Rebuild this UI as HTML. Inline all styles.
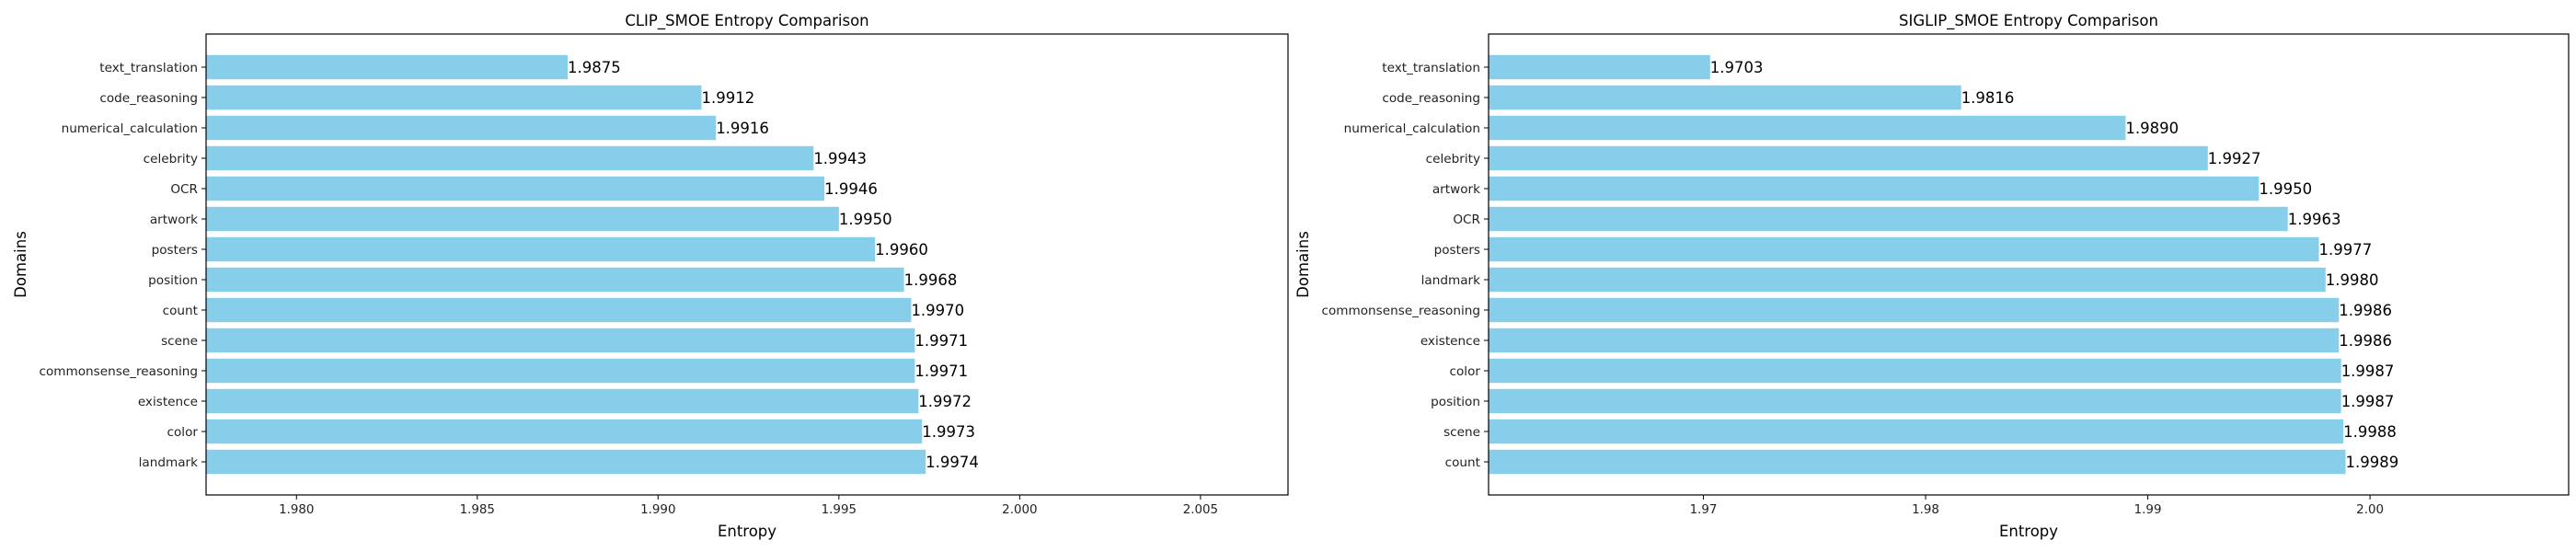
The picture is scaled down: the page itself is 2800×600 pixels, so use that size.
<!DOCTYPE html>
<html><head><meta charset="utf-8"><style>
body{margin:0;background:#fff;}
svg{display:block;font-family:"DejaVu Sans","Liberation Sans",sans-serif;}
</style></head><body>
<svg id="fig" width="2800" height="600" viewBox="0 0 2800 600" xmlns="http://www.w3.org/2000/svg"></svg>
<script>
const clipCategories = ["text_translation","code_reasoning","numerical_calculation","celebrity","OCR","artwork","posters","position","count","scene","commonsense_reasoning","existence","color","landmark"];
const clipValues = [1.9875,1.9912,1.9916,1.9943,1.9946,1.9950,1.9960,1.9968,1.9970,1.9971,1.9971,1.9972,1.9973,1.9974];
const clipTicks = [1.980,1.985,1.990,1.995,2.000,2.005];
const clipTickLabels = ["1.980","1.985","1.990","1.995","2.000","2.005"];
const siglipCategories = ["text_translation","code_reasoning","numerical_calculation","celebrity","artwork","OCR","posters","landmark","commonsense_reasoning","existence","color","position","scene","count"];
const siglipValues = [1.9703,1.9816,1.9890,1.9927,1.9950,1.9963,1.9977,1.9980,1.9986,1.9986,1.9987,1.9987,1.9988,1.9989];
const siglipTicks = [1.97,1.98,1.99,2.00];
const siglipTickLabels = ["1.97","1.98","1.99","2.00"];

const NS="http://www.w3.org/2000/svg";
const svg=document.getElementById('fig');
function mk(tag,attrs,parent){const e=document.createElementNS(NS,tag);for(const k in attrs)e.setAttribute(k,attrs[k]);(parent||svg).appendChild(e);return e;}

function drawChart(prefix,title,cats,vals,ticks,tickLabels,x0,x1,dmin,dmax){
  const top=37,bottom=538;
  const g=mk('g',{});
  
  
  const xs=v=>x0+(v-dmin)/(dmax-dmin)*(x1-x0);
  const first=73,step=33.0,bh=26.4;
  const ys=i=>first+i*step;
  cats.forEach((c,i)=>{
    const y=ys(i);
    const r=mk('rect',{x:x0,y:y-bh/2,width:xs(vals[i])-x0,height:bh,fill:'#87ceeb'},g);
    
    
    const t=mk('text',{x:xs(vals[i]),y:y+6,'font-size':16.5,fill:'#000'},g);
    t.textContent=vals[i].toFixed(4);
    
    
    mk('line',{x1:x0-5,x2:x0,y1:y,y2:y,stroke:'#000','stroke-width':1},g);
    const l=mk('text',{x:x0-9,y:y+5,'font-size':13.6,'text-anchor':'end',fill:'#222'},g);
    l.textContent=c;
    
    
  });
  ticks.forEach((v,i)=>{
    const x=xs(v);
    mk('line',{x1:x,x2:x,y1:bottom,y2:bottom+5,stroke:'#000','stroke-width':1},g);
    const t=mk('text',{x:x,y:558,'font-size':13.4,'text-anchor':'middle',fill:'#222'},g);
    t.textContent=tickLabels[i];
    
    
  });
  const f=mk('rect',{x:x0,y:top,width:x1-x0,height:bottom-top,fill:'none',stroke:'#000','stroke-width':1.2},g);
  
  
  const tt=mk('text',{x:(x0+x1)/2,y:28,'font-size':16.5,'text-anchor':'middle',fill:'#000'},g);
  tt.textContent=title;
  
  
  const xl=mk('text',{x:(x0+x1)/2,y:583,'font-size':16.5,'text-anchor':'middle',fill:'#000'},g);
  xl.textContent='Entropy';
  
  
  const yx=x0-196;
  const yl=mk('text',{x:yx,y:(top+bottom)/2,'font-size':16.5,'text-anchor':'middle',fill:'#000',transform:'rotate(-90 '+yx+' '+(top+bottom)/2+')'},g);
  yl.textContent='Domains';
  
  
}
drawChart('clip','CLIP_SMOE Entropy Comparison',clipCategories,clipValues,clipTicks,clipTickLabels,224,1400,1.97750,2.00742);
drawChart('siglip','SIGLIP_SMOE Entropy Comparison',siglipCategories,siglipValues,siglipTicks,siglipTickLabels,1618,2792,1.96033,2.00894);
</script>
</body></html>
